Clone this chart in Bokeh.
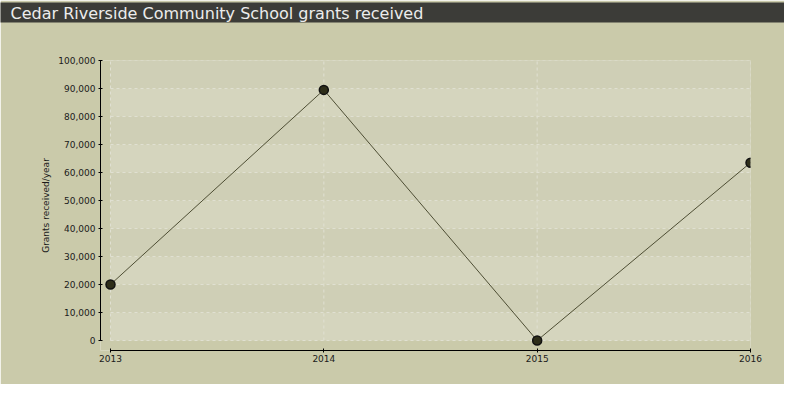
from bokeh.plotting import figure
from bokeh.models import Range1d, NumeralTickFormatter, FixedTicker, ColumnDataSource, Title
from bokeh.embed import file_html
from bokeh.resources import INLINE

# ---- data ----
years = [2013, 2014, 2015, 2016]
grants = [20000, 89500, 0, 63500]
y_ticks = [0, 10000, 20000, 30000, 40000, 50000, 60000, 70000, 80000, 90000, 100000]
title_text = "Cedar Riverside Community School grants received"
y_label = "Grants received/year"

# ---- style ----
BG = "#cacaaa"
BAND_LIGHT = "#d5d5be"
BAND_DARK = "#cfcfb6"
GRID = "#e0e0d2"
FONT = "DejaVu Sans"

W, H = 784, 384
ML, MR, MT, MB = 100, 34, 60, 34
frame_w, frame_h = W - ML - MR, H - MT - MB
pad_px = 10

x_span = years[-1] - years[0]
y_span = y_ticks[-1] - y_ticks[0]
x_pad = x_span * pad_px / (frame_w - pad_px)
y_pad = y_span * pad_px / (frame_h - pad_px)

p = figure(width=W, height=H, output_backend="svg", toolbar_location=None,
           x_range=Range1d(years[0] - x_pad, years[-1]),
           y_range=Range1d(y_ticks[0] - y_pad, y_ticks[-1]),
           min_border_left=ML, min_border_right=MR,
           min_border_top=MT, min_border_bottom=MB)

p.border_fill_color = BG
p.background_fill_color = BG
p.outline_line_color = None

# invisible spacer between title bar and frame
spacer = Title(text=" ", text_font=FONT, text_font_size="16px", standoff=0,
               padding=(0, 0, 9, 8), background_fill_color=None, border_line_color=None)
p.add_layout(spacer, "above")

# title bar (padding order: left, right, top, bottom)
p.title.text = title_text
p.title.text_font = FONT
p.title.text_font_size = "16px"
p.title.text_font_style = "normal"
p.title.text_color = "#ececec"
p.title.background_fill_color = "#3c3c38"
p.title.align = "left"
p.title.offset = -ML
p.title.padding = (10, 380, 1, 0)
p.title.standoff = 0

# bands
band_src = ColumnDataSource(dict(
    bottom=y_ticks[:-1],
    top=y_ticks[1:],
    left=[years[0]] * (len(y_ticks) - 1),
    right=[years[-1]] * (len(y_ticks) - 1),
    color=[BAND_LIGHT if i % 2 == 0 else BAND_DARK for i in range(len(y_ticks) - 1)],
))
p.quad(left="left", right="right", bottom="bottom", top="top", fill_color="color",
       line_color=None, source=band_src)

# grid lines
p.xgrid.grid_line_color = None
p.ygrid.grid_line_color = None
p.segment(x0=years, y0=[y_ticks[0]] * len(years), x1=years, y1=[y_ticks[-1]] * len(years),
          line_color=GRID, line_width=1, line_dash="3 3")
p.segment(x0=[years[0]] * len(y_ticks), y0=y_ticks, x1=[years[-1]] * len(y_ticks), y1=y_ticks,
          line_color=GRID, line_width=1, line_dash="3 3")

# series
p.line(years, grants, line_color="#4e4e34", line_width=1)
p.scatter(years, grants, size=9, fill_color="#2e2e1a", line_color="#111111", line_width=1.5)

# axes
for ax in (p.xaxis[0], p.yaxis[0]):
    ax.axis_line_color = "black"
    ax.major_tick_line_color = "black"
    ax.major_tick_in = 2
    ax.major_tick_out = 2
    ax.minor_tick_line_color = None
    ax.major_label_text_font = FONT
    ax.major_label_text_font_size = "9px"
    ax.major_label_text_color = "#1a1a1a"

p.xaxis[0].ticker = FixedTicker(ticks=years)
p.xaxis[0].bounds = (years[0], years[-1])
p.xaxis[0].major_label_standoff = 2

p.yaxis[0].ticker = FixedTicker(ticks=y_ticks)
p.yaxis[0].bounds = (y_ticks[0], y_ticks[-1])
p.yaxis[0].formatter = NumeralTickFormatter(format="0,0")
p.yaxis[0].major_label_standoff = 3
p.yaxis[0].axis_label = y_label
p.yaxis[0].axis_label_text_font = FONT
p.yaxis[0].axis_label_text_font_size = "9px"
p.yaxis[0].axis_label_text_font_style = "normal"
p.yaxis[0].axis_label_text_color = "#1a1a1a"
p.yaxis[0].axis_label_standoff = 4

open("out.html", "w").write(file_html(p, INLINE))
